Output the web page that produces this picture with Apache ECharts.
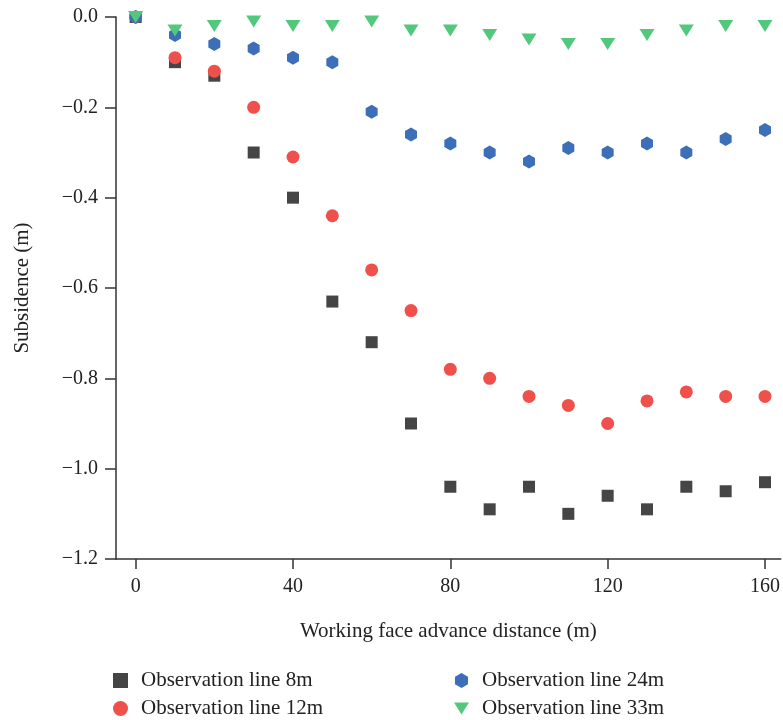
<!DOCTYPE html>
<html>
<head>
<meta charset="utf-8">
<script src="https://cdn.jsdelivr.net/npm/echarts@6/dist/echarts.min.js"></script>
<style>html,body{margin:0;padding:0;background:#fff}#c{width:783px;height:720px}</style>
</head>
<body>
<div id="c"></div>
<script>
var distances = [0, 10, 20, 30, 40, 50, 60, 70, 80, 90, 100, 110, 120, 130, 140, 150, 160];
var line8m  = [0, -0.10, -0.13, -0.30, -0.40, -0.63, -0.72, -0.90, -1.04, -1.09, -1.04, -1.10, -1.06, -1.09, -1.04, -1.05, -1.03];
var line12m = [0, -0.09, -0.12, -0.20, -0.31, -0.44, -0.56, -0.65, -0.78, -0.80, -0.84, -0.86, -0.90, -0.85, -0.83, -0.84, -0.84];
var line24m = [0, -0.04, -0.06, -0.07, -0.09, -0.10, -0.21, -0.26, -0.28, -0.30, -0.32, -0.29, -0.30, -0.28, -0.30, -0.27, -0.25];
var line33m = [0, -0.03, -0.02, -0.01, -0.02, -0.02, -0.01, -0.03, -0.03, -0.04, -0.05, -0.06, -0.06, -0.04, -0.03, -0.02, -0.02];
var xTicks = [0, 40, 80, 120, 160];
var seriesNames = ['Observation line 8m', 'Observation line 12m', 'Observation line 24m', 'Observation line 33m'];

function pairs(vals) { return distances.map(function (d, i) { return [d, vals[i]]; }); }

var FONT = 'Liberation Serif';
var TXT = '#222';
var hexPath = 'path://M0,-1 L0.866,-0.5 L0.866,0.5 L0,1 L-0.866,0.5 L-0.866,-0.5 Z';
var downTri = 'path://M0,0 L15,0 L7.5,12 Z';

var legendText = { fontFamily: FONT, fontSize: 21, color: TXT, lineHeight: 21, padding: [0, 0, 0, 8] };

var chart = echarts.init(document.getElementById('c'));
chart.setOption({
  animation: false,
  backgroundColor: '#fff',
  grid: { left: 116, right: 0, top: 17, bottom: 161, containLabel: false },
  xAxis: {
    type: 'value', min: -5, max: 164,
    name: 'Working face advance distance (m)', nameLocation: 'middle', nameGap: 62,
    nameTextStyle: { fontFamily: FONT, fontSize: 21, color: TXT },
    axisLine: { onZero: false, lineStyle: { color: '#333', width: 1.5 } },
    axisTick: { show: true, inside: false, length: 10, customValues: xTicks, lineStyle: { color: '#333', width: 1.5 } },
    axisLabel: { customValues: xTicks, margin: 18, fontFamily: FONT, fontSize: 20, color: TXT },
    splitLine: { show: false }
  },
  yAxis: {
    type: 'value', min: -1.2, max: 0, interval: 0.2,
    name: 'Subsidence (m)', nameLocation: 'middle', nameGap: 83, nameRotate: 90,
    nameTextStyle: { fontFamily: FONT, fontSize: 21, color: TXT },
    axisLine: { show: true, onZero: false, lineStyle: { color: '#333', width: 1.5 } },
    axisTick: { show: true, inside: false, length: 11, lineStyle: { color: '#333', width: 1.5 } },
    axisLabel: {
      margin: 18, fontFamily: FONT, fontSize: 20, color: TXT,
      formatter: function (v) { var s = Math.abs(v) < 1e-9 ? '0.0' : v.toFixed(1); return s.replace('-', '\u2212'); }
    },
    splitLine: { show: false }
  },
  legend: [
    {
      data: [{ name: seriesNames[0], icon: 'rect' }, { name: seriesNames[1], icon: 'circle' }],
      orient: 'vertical', left: 113, top: 670, padding: 0,
      itemWidth: 15, itemHeight: 15, itemGap: 7, symbolKeepAspect: true,
      textStyle: legendText
    },
    {
      data: [{ name: seriesNames[2], icon: hexPath }, { name: seriesNames[3], icon: downTri }],
      orient: 'vertical', left: 454, top: 670, padding: 0,
      itemWidth: 15, itemHeight: 15, itemGap: 7, symbolKeepAspect: true,
      textStyle: legendText
    }
  ],
  series: [
    { name: seriesNames[0], type: 'scatter', data: pairs(line8m), symbol: 'rect', symbolSize: 12,
      itemStyle: { color: '#454545', opacity: 1 } },
    { name: seriesNames[1], type: 'scatter', data: pairs(line12m), symbol: 'circle', symbolSize: 13,
      itemStyle: { color: '#f0504b', opacity: 1 } },
    { name: seriesNames[2], type: 'scatter', data: pairs(line24m), symbol: hexPath, symbolSize: [12, 14],
      itemStyle: { color: '#3d6fb8', opacity: 1 } },
    { name: seriesNames[3], type: 'scatter', data: pairs(line33m), symbol: 'triangle', symbolRotate: 180, symbolSize: [15, 12],
      itemStyle: { color: '#52c87d', opacity: 1 } }
  ]
});
</script>
</body>
</html>
